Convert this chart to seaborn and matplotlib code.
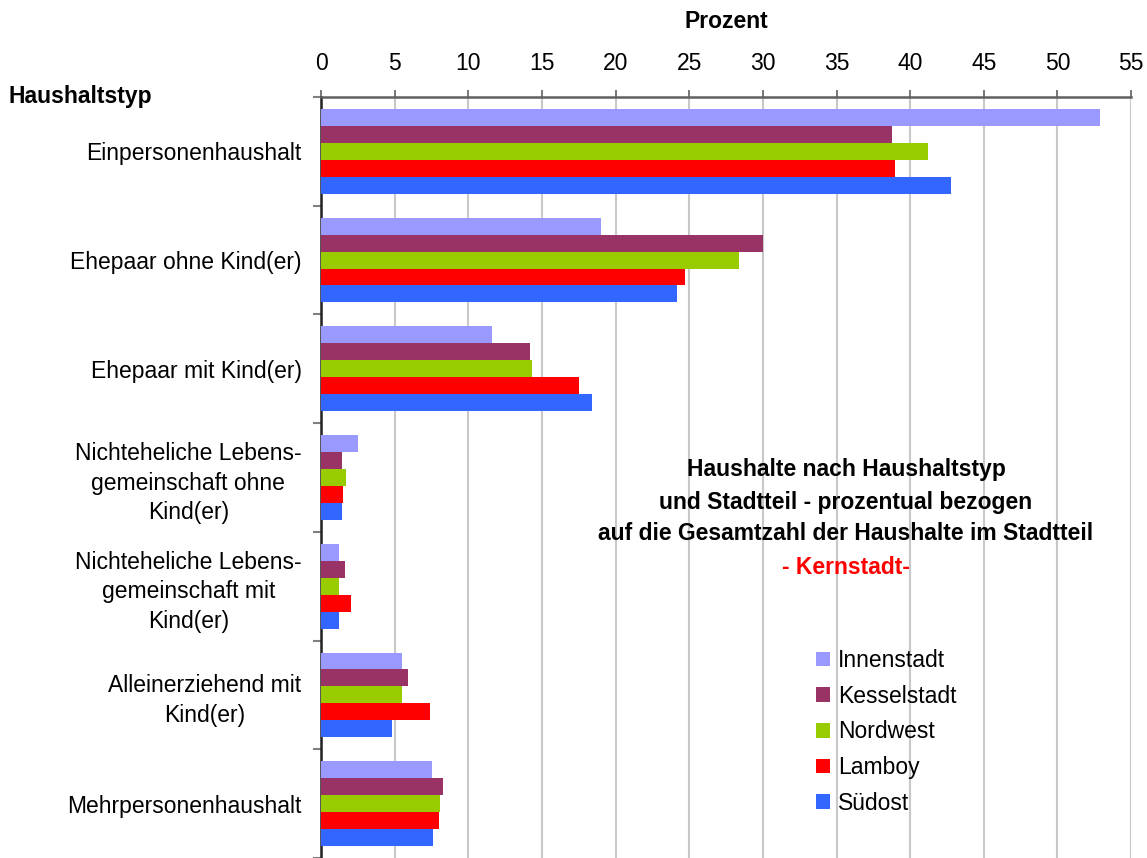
import pandas as pd
import numpy as np
import matplotlib
matplotlib.use("Agg")
import matplotlib.pyplot as plt
import seaborn as sns

# ---------------------------
# datos
# ---------------------------
haushaltstyp = [
    "Einpersonenhaushalt",
    "Ehepaar ohne Kind(er)",
    "Ehepaar mit Kind(er)",
    "Nichteheliche Lebens-\ngemeinschaft ohne\nKind(er)",
    "Nichteheliche Lebens-\ngemeinschaft mit\nKind(er)",
    "Alleinerziehend mit\nKind(er)",
    "Mehrpersonenhaushalt",
]
stadtteile = ["Innenstadt", "Kesselstadt", "Nordwest", "Lamboy", "Südost"]

innenstadt = [52.9, 19.0, 11.6, 2.5, 1.2, 5.5, 7.5]
kesselstadt = [38.8, 30.0, 14.2, 1.4, 1.6, 5.9, 8.3]
nordwest = [41.2, 28.4, 14.3, 1.7, 1.2, 5.5, 8.1]
lamboy = [39.0, 24.7, 17.5, 1.5, 2.0, 7.4, 8.0]
suedost = [42.8, 24.2, 18.4, 1.4, 1.2, 4.85, 7.6]

farben = ["#9999FF", "#993366", "#99CC00", "#FF0000", "#3366FF"]

werte = [innenstadt, kesselstadt, nordwest, lamboy, suedost]
df = pd.DataFrame({
    "Haushaltstyp": np.tile(haushaltstyp, len(stadtteile)),
    "Stadtteil": np.repeat(stadtteile, len(haushaltstyp)),
    "Prozent": np.concatenate(werte),
})

# ---------------------------
# grafico
# ---------------------------
sns.set_style("white")
plt.rcParams["font.family"] = ["Liberation Sans", "DejaVu Sans"]
plt.rcParams["text.color"] = "black"
plt.rcParams["xtick.labelcolor"] = "black"
plt.rcParams["ytick.labelcolor"] = "black"
fs = 16.5

fig = plt.figure(figsize=(11.47, 8.58), dpi=100)
ax = fig.add_axes([0.2799, 0.0, 0.7062, 0.887])

sns.barplot(data=df, y="Haushaltstyp", x="Prozent", hue="Stadtteil",
            order=haushaltstyp, hue_order=stadtteile, palette=farben,
            orient="h", width=0.78, saturation=1, errorbar=None, ax=ax,
            zorder=3)
for p in ax.patches:
    p.set_linewidth(0)

ax.set_xlim(0, 55)
ax.set_ylim(6.5, -0.5)
ax.set_xticks(np.arange(0, 56, 5))
ax.xaxis.tick_top()
ax.xaxis.set_label_position("top")
ax.set_xlabel("Prozent", fontsize=fs, fontweight="bold", labelpad=17,
              color="black")
ax.set_ylabel("")
ax.tick_params(axis="x", labelsize=fs, direction="out", length=5, width=1.2,
               color="#606060", pad=11)
ax.grid(axis="x", color="#c8c8c8", linewidth=1.5, zorder=0)
ax.grid(axis="y", visible=False)

ax.set_yticks(range(len(haushaltstyp)))
ax.set_yticklabels(haushaltstyp, fontsize=fs, ha="right", multialignment="center",
                   linespacing=1.35)
ax.set_yticks(np.arange(-0.5, 7, 1), minor=True)
ax.tick_params(axis="y", which="major", length=0, pad=14)
ax.tick_params(axis="y", which="minor", length=6, width=1.5, color="#808080",
               direction="out", left=True)

for s in ["right", "bottom"]:
    ax.spines[s].set_visible(False)
ax.spines["left"].set_color("#202020")
ax.spines["left"].set_linewidth(1.8)
ax.spines["top"].set_color("#606060")
ax.spines["top"].set_linewidth(1.8)

fig.text(0.007, 1 - 96 / 858, "Haushaltstyp", fontsize=fs, fontweight="bold",
         va="center", ha="left")

fig.text(0.7376, 1 - 502 / 858,
         "Haushalte nach Haushaltstyp\nund Stadtteil - prozentual bezogen\n"
         "auf die Gesamtzahl der Haushalte im Stadtteil",
         fontsize=fs, fontweight="bold", ha="center", va="center",
         linespacing=1.5)
fig.text(0.7376, 1 - 567 / 858, "- Kernstadt-", fontsize=fs, fontweight="bold",
         color="#FF0000", ha="center", va="center")

leg = ax.legend(loc="upper left", bbox_to_anchor=(807 / 1147, 1 - 640 / 858),
                bbox_transform=fig.transFigure, frameon=False, fontsize=fs,
                handlelength=0.6, handleheight=0.6, handletextpad=0.35,
                labelspacing=0.55, borderaxespad=0)

fig.savefig("out.png", dpi=100)
